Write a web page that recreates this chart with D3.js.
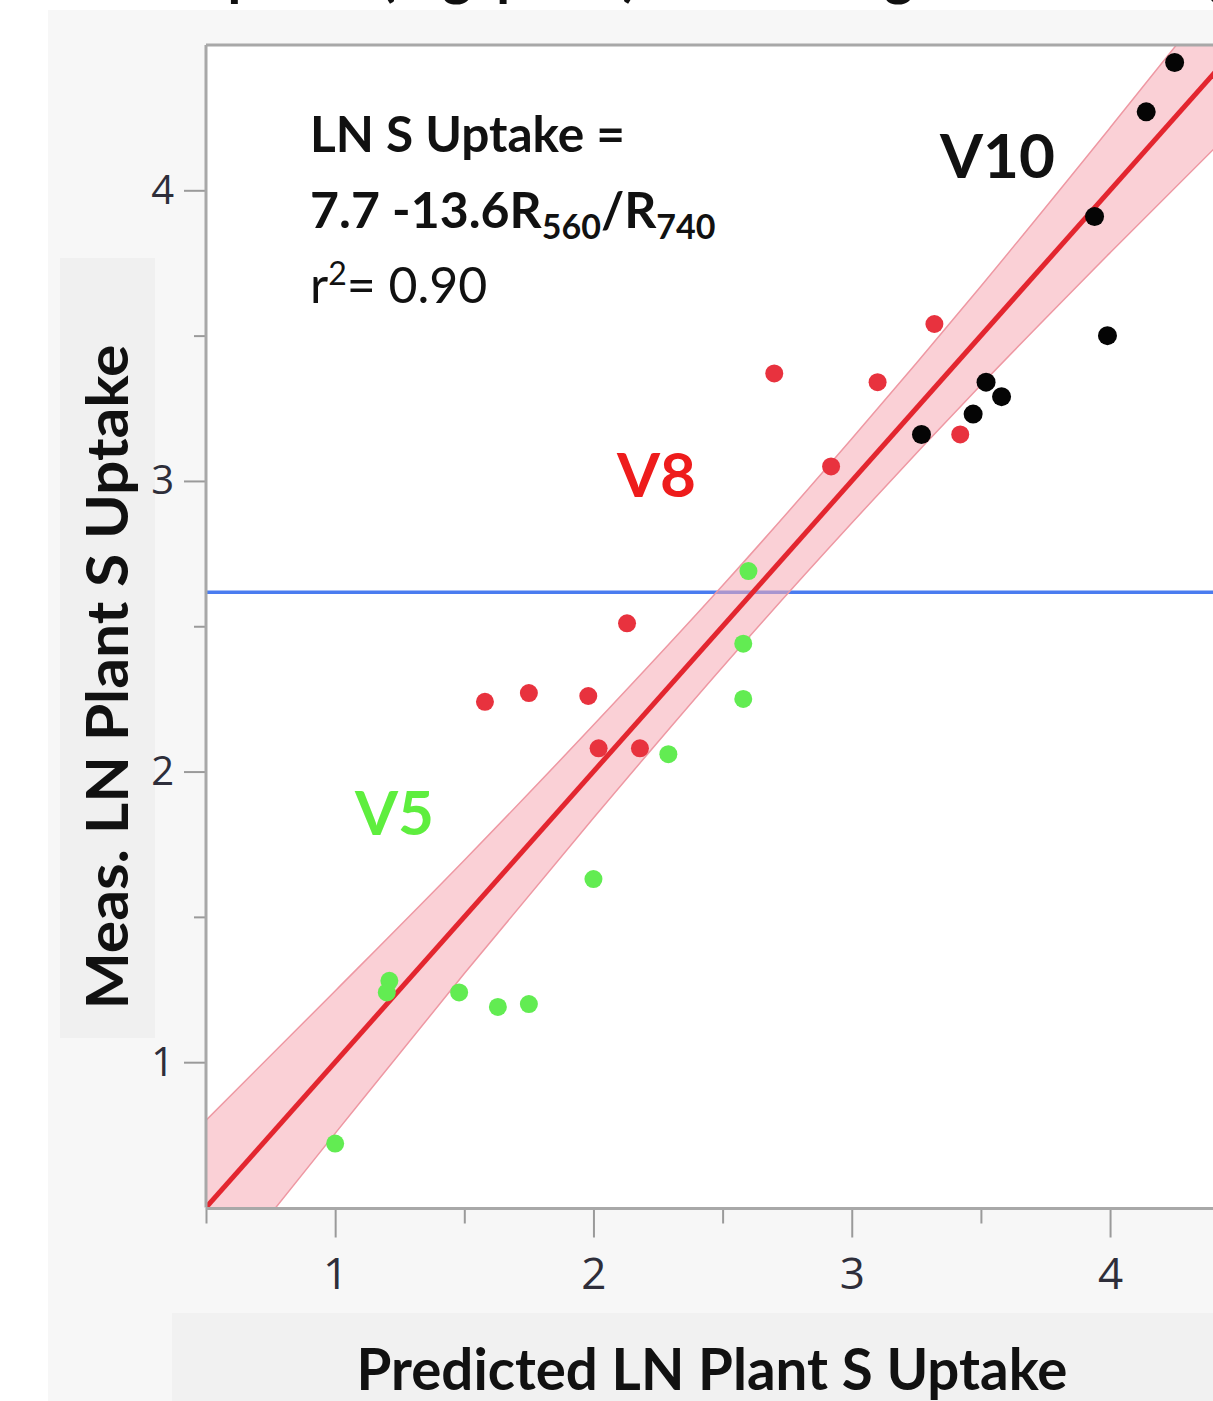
<!DOCTYPE html>
<html lang="en">
<head>
<meta charset="UTF-8">
<title>Meas. vs Predicted LN Plant S Uptake</title>
<script src="https://cdn.jsdelivr.net/npm/d3@7"></script>
<style>
  body { margin: 0; background: #fff; }
  svg { display: block; font-family: Lato, 'Open Sans', sans-serif; }
  .tick text { font-family: 'Open Sans', sans-serif; font-weight: 400; fill: #2e2e3a; }
</style>
</head>
<body>
<svg id="chart" width="1213" height="1401"></svg>
<script>
const v5Pred  = [1.00, 1.21, 1.20, 1.48, 1.63, 1.75, 2.00, 2.29, 2.58, 2.58, 2.60];
const v5Meas  = [0.72, 1.28, 1.24, 1.24, 1.19, 1.20, 1.63, 2.06, 2.25, 2.44, 2.69];
const v8Pred  = [1.58, 1.75, 1.98, 2.13, 2.02, 2.18, 2.70, 2.92, 3.10, 3.32, 3.42];
const v8Meas  = [2.24, 2.27, 2.26, 2.51, 2.08, 2.08, 3.37, 3.05, 3.34, 3.54, 3.16];
const v10Pred = [3.27, 3.47, 3.52, 3.58, 3.94, 3.99, 4.14, 4.25];
const v10Meas = [3.16, 3.23, 3.34, 3.29, 3.91, 3.50, 4.27, 4.44];

// fit line (actual by predicted) and its shaded confidence band
const fitIntercept = 0;
const fitSlope = 1;
const bandX    = [0.5, 1.0, 1.5, 2.0, 2.5, 3.0, 3.5, 4.0, 4.5];
const bandHalf = [0.30, 0.245, 0.195, 0.16, 0.14, 0.145, 0.17, 0.215, 0.27];
const meanLine = 2.617;

const xMajorTicks = [1, 2, 3, 4];
const xMinorTicks = [0.5, 1.5, 2.5, 3.5];
const yMajorTicks = [1, 2, 3, 4];
const yMinorTicks = [1.5, 2.5, 3.5];

const titleText = 'Plant S Uptake (mg/plant) at Reading Growth Stages';
const xTitle = 'Predicted LN Plant S Uptake';
const yTitle = 'Meas. LN Plant S Uptake';

const svg = d3.select('#chart');
const W = +svg.attr('width');
const H = +svg.attr('height');

const x = d3.scaleLinear().domain([0.5, 4.5]).range([206, 1239.2]);
const y = d3.scaleLinear().domain([0.5, 4.5]).range([1207.5, 45]);

// backgrounds
svg.append('rect').attr('x', 48).attr('y', 10).attr('width', W - 48).attr('height', H - 10).attr('fill', '#f7f7f7');
svg.append('rect').attr('x', 60).attr('y', 258).attr('width', 95).attr('height', 780).attr('fill', '#f0f0f0');
svg.append('rect').attr('x', 172).attr('y', 1313).attr('width', W - 172).attr('height', H - 1313).attr('fill', '#f1f1f1');
svg.append('rect').attr('x', x(0.5)).attr('y', y(4.5)).attr('width', x(4.5) - x(0.5)).attr('height', y(0.5) - y(4.5)).attr('fill', '#fff');

// title, mostly cut off at the top of the image (as in the source)
svg.append('text')
    .attr('x', 0)
    .attr('y', -5)
    .attr('font-size', 56)
    .attr('font-weight', 700)
    .attr('fill', '#111')
    .text(titleText);

svg.append('clipPath').attr('id', 'plot-clip')
  .append('rect')
    .attr('x', x(0.5)).attr('y', y(4.5))
    .attr('width', x(4.5) - x(0.5)).attr('height', y(0.5) - y(4.5));

const plot = svg.append('g').attr('clip-path', 'url(#plot-clip)');

// horizontal mean line
plot.append('line')
    .attr('x1', x(0.5)).attr('x2', x(4.5))
    .attr('y1', y(meanLine)).attr('y2', y(meanLine))
    .attr('stroke', '#4a7cf0')
    .attr('stroke-width', 3.5);

const fit = v => fitIntercept + fitSlope * v;
const bandData = bandX.map((v, i) => ({ x: v, lo: fit(v) - bandHalf[i], hi: fit(v) + bandHalf[i] }));

plot.append('path')
    .datum(bandData)
    .attr('d', d3.area().x(d => x(d.x)).y0(d => y(d.lo)).y1(d => y(d.hi)).curve(d3.curveMonotoneX))
    .attr('fill', '#f6aab4')
    .attr('fill-opacity', 0.55);

['lo', 'hi'].forEach(k => {
    plot.append('path')
        .datum(bandData)
        .attr('d', d3.line().x(d => x(d.x)).y(d => y(d[k])).curve(d3.curveMonotoneX))
        .attr('fill', 'none')
        .attr('stroke', '#ee98a3')
        .attr('stroke-width', 1.5);
});

plot.append('line')
    .attr('x1', x(0.5)).attr('y1', y(fit(0.5)))
    .attr('x2', x(4.5)).attr('y2', y(fit(4.5)))
    .attr('stroke', '#e3262f')
    .attr('stroke-width', 5);

// points for each growth stage
const stages = [
    { pred: v5Pred, meas: v5Meas, color: '#62ec52', r: 9 },
    { pred: v8Pred, meas: v8Meas, color: '#e8323e', r: 9 },
    { pred: v10Pred, meas: v10Meas, color: '#050505', r: 9.5 }
];

stages.forEach(s => {
    plot.append('g').selectAll('circle')
        .data(s.pred.map((p, i) => [p, s.meas[i]]))
        .enter()
        .append('circle')
        .attr('cx', d => x(d[0]))
        .attr('cy', d => y(d[1]))
        .attr('r', s.r)
        .attr('fill', s.color);
});

// axes
const gy = svg.append('g')
    .attr('transform', `translate(${x(0.5)},0)`)
    .call(d3.axisLeft(y).tickValues(yMajorTicks).tickSize(22).tickPadding(10).tickFormat(d3.format('d')));
gy.select('.domain').remove();
gy.selectAll('text').attr('font-size', 40);

const gyMinor = svg.append('g')
    .attr('transform', `translate(${x(0.5)},0)`)
    .call(d3.axisLeft(y).tickValues(yMinorTicks).tickSize(12).tickFormat(''));
gyMinor.select('.domain').remove();

const gx = svg.append('g')
    .attr('transform', `translate(0,${y(0.5)})`)
    .call(d3.axisBottom(x).tickValues(xMajorTicks).tickSize(30).tickPadding(20).tickFormat(d3.format('d')));
gx.select('.domain').remove();
gx.selectAll('text').attr('font-size', 44);

const gxMinor = svg.append('g')
    .attr('transform', `translate(0,${y(0.5)})`)
    .call(d3.axisBottom(x).tickValues(xMinorTicks).tickSize(16).tickFormat(''));
gxMinor.select('.domain').remove();

svg.selectAll('.tick line').attr('stroke', '#9a9a9a').attr('stroke-width', 2);

// plot frame
svg.append('line').attr('x1', x(0.5)).attr('x2', W).attr('y1', y(4.5)).attr('y2', y(4.5)).attr('stroke', '#a8a8a8').attr('stroke-width', 3);
svg.append('line').attr('x1', x(0.5)).attr('x2', x(0.5)).attr('y1', y(4.5)).attr('y2', y(0.5)).attr('stroke', '#a8a8a8').attr('stroke-width', 3);
svg.append('line').attr('x1', x(0.5)).attr('x2', W).attr('y1', y(0.5) + 1).attr('y2', y(0.5) + 1).attr('stroke', '#a8a8a8').attr('stroke-width', 3);

// axis titles
svg.append('text')
    .attr('transform', 'translate(128,677) rotate(-90)')
    .attr('text-anchor', 'middle')
    .attr('font-size', 58)
    .attr('font-weight', 700)
    .attr('fill', '#111')
    .attr('textLength', 665)
    .attr('lengthAdjust', 'spacingAndGlyphs')
    .text(yTitle);

svg.append('text')
    .attr('x', 712)
    .attr('y', 1390)
    .attr('text-anchor', 'middle')
    .attr('font-size', 58)
    .attr('font-weight', 700)
    .attr('fill', '#111')
    .attr('textLength', 711)
    .attr('lengthAdjust', 'spacingAndGlyphs')
    .text(xTitle);

// equation
const eq = svg.append('g').attr('fill', '#111');
eq.append('text')
    .attr('x', 310).attr('y', 152)
    .attr('font-size', 50).attr('font-weight', 700)
    .attr('textLength', 315).attr('lengthAdjust', 'spacingAndGlyphs')
    .text('LN S Uptake =');

const line2 = eq.append('text')
    .attr('x', 310).attr('y', 228)
    .attr('font-size', 50).attr('font-weight', 700);
line2.append('tspan').text('7.7 -13.6R');
line2.append('tspan').attr('font-size', 34).attr('dy', 11).text('560');
line2.append('tspan').attr('dy', -11).text('/R');
line2.append('tspan').attr('font-size', 34).attr('dy', 11).text('740');

const line3 = eq.append('text')
    .attr('x', 310).attr('y', 303)
    .attr('font-size', 50).attr('font-weight', 400);
line3.append('tspan').text('r');
line3.append('tspan').attr('font-size', 32).attr('dy', -18).text('2');
line3.append('tspan').attr('dy', 18).text('= 0.90');

// stage labels
const stageLabels = [
    { text: 'V10', x: 940, y: 178, color: '#111' },
    { text: 'V8', x: 617, y: 497, color: '#ee1c1c' },
    { text: 'V5', x: 355, y: 835, color: '#5eee3e' }
];
svg.append('g').selectAll('text')
    .data(stageLabels)
    .enter()
    .append('text')
    .attr('x', d => d.x)
    .attr('y', d => d.y)
    .attr('font-size', 62)
    .attr('font-weight', 700)
    .attr('fill', d => d.color)
    .text(d => d.text);
</script>
</body>
</html>
